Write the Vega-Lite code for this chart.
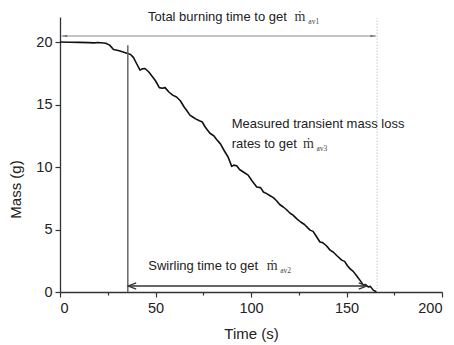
{
  "$schema": "https://vega.github.io/schema/vega-lite/v6.json",
  "width": 382,
  "height": 275,
  "autosize": {"type": "none"},
  "padding": {"left": 60, "top": 17, "right": 12, "bottom": 53},
  "background": "white",
  "config": {
    "view": {"stroke": null},
    "font": "Liberation Sans",
    "axis": {"grid": false, "domainColor": "#333", "domainWidth": 1.3, "tickColor": "#333", "tickWidth": 1.2, "labelFont": "Liberation Sans", "labelFontSize": 14.5, "labelColor": "#222", "titleFont": "Liberation Sans", "titleFontSize": 15, "titleFontWeight": "normal", "titleColor": "#222"}
  },
  "datasets": {
    "curve": [
      {"t": 0, "m": 20.0}, {"t": 5, "m": 19.98}, {"t": 10, "m": 19.97}, {"t": 15, "m": 19.95}, {"t": 18, "m": 19.93},
      {"t": 20, "m": 19.96}, {"t": 24, "m": 19.9}, {"t": 26, "m": 19.75}, {"t": 28, "m": 19.4}, {"t": 31, "m": 19.3},
      {"t": 35, "m": 19.1}, {"t": 37, "m": 19.0}, {"t": 38.5, "m": 18.75}, {"t": 40, "m": 18.3}, {"t": 41.9, "m": 17.75},
      {"t": 43, "m": 17.85}, {"t": 44.5, "m": 17.88}, {"t": 46.5, "m": 17.6}, {"t": 48, "m": 17.3}, {"t": 50, "m": 16.9},
      {"t": 52, "m": 16.35}, {"t": 53.5, "m": 16.3}, {"t": 55, "m": 16.35}, {"t": 57, "m": 16.0}, {"t": 59, "m": 15.75},
      {"t": 61, "m": 15.6}, {"t": 63, "m": 15.3}, {"t": 65, "m": 14.8}, {"t": 66, "m": 14.6}, {"t": 68, "m": 14.15},
      {"t": 69.5, "m": 14.0}, {"t": 71, "m": 13.85}, {"t": 73, "m": 13.7}, {"t": 74.5, "m": 13.6}, {"t": 76, "m": 13.2},
      {"t": 78.5, "m": 12.7}, {"t": 80.5, "m": 12.5}, {"t": 82, "m": 12.2}, {"t": 84, "m": 11.85}, {"t": 86, "m": 11.3},
      {"t": 88, "m": 10.8}, {"t": 89.9, "m": 10.05}, {"t": 91, "m": 10.15}, {"t": 92.5, "m": 10.1}, {"t": 94, "m": 9.8},
      {"t": 96, "m": 9.6}, {"t": 98.5, "m": 9.35}, {"t": 100.5, "m": 8.9}, {"t": 103, "m": 8.4}, {"t": 105, "m": 8.35},
      {"t": 106.5, "m": 8.0}, {"t": 108.2, "m": 7.87}, {"t": 110, "m": 7.7}, {"t": 111.7, "m": 7.55}, {"t": 113.4, "m": 7.3},
      {"t": 115, "m": 7.0}, {"t": 116.9, "m": 6.8}, {"t": 118.5, "m": 6.6}, {"t": 120.5, "m": 6.3}, {"t": 122, "m": 6.15},
      {"t": 124, "m": 5.85}, {"t": 126, "m": 5.6}, {"t": 128, "m": 5.4}, {"t": 130.9, "m": 4.95}, {"t": 132.5, "m": 4.85},
      {"t": 134, "m": 4.5}, {"t": 136.1, "m": 4.0}, {"t": 137.5, "m": 3.95}, {"t": 139.5, "m": 3.7}, {"t": 141.4, "m": 3.35},
      {"t": 143, "m": 3.2}, {"t": 145, "m": 2.9}, {"t": 147.5, "m": 2.55}, {"t": 149, "m": 2.45}, {"t": 150.5, "m": 2.1},
      {"t": 151.8, "m": 1.87}, {"t": 153.5, "m": 1.65}, {"t": 155.3, "m": 1.3}, {"t": 157, "m": 0.95}, {"t": 158.8, "m": 0.55},
      {"t": 160, "m": 0.6}, {"t": 161.4, "m": 0.4}, {"t": 162.5, "m": 0.45}, {"t": 164, "m": 0.15}, {"t": 165.8, "m": 0.0}
    ],
    "topArrow": [{"t": 0.8, "t2": 165.5, "m": 20.48}],
    "swirlStart": [{"t": 35.5, "m": 0, "m2": 19.74}],
    "endLine": [{"t": 166, "m": 0, "m2": 21.9}],
    "bottomArrow": [{"t": 35.7, "t2": 160.6, "m": 0.48}],
    "topHeadsL": [{"t": 0.8, "m": 20.48}],
    "topHeadsR": [{"t": 165.5, "m": 20.48}],
    "botHeadsL": [{"t": 35.7, "m": 0.48}],
    "botHeadsR": [{"t": 160.6, "m": 0.48}],
    "mainText": [
      {"t": 46.1, "m": 21.68, "label": "Total burning time to get"},
      {"t": 89.9, "m": 13.15, "label": "Measured transient mass loss"},
      {"t": 89.9, "m": 11.55, "label": "rates to get"},
      {"t": 46.2, "m": 1.74, "label": "Swirling time to get"}
    ],
    "mdot": [
      {"t": 122.8, "m": 21.68, "label": "ṁ"},
      {"t": 127.2, "m": 11.55, "label": "ṁ"},
      {"t": 108.2, "m": 1.74, "label": "ṁ"}
    ],
    "subs": [
      {"t": 130.0, "m": 21.45, "label": "av1"},
      {"t": 134.3, "m": 11.32, "label": "av3"},
      {"t": 115.3, "m": 1.51, "label": "av2"}
    ]
  },
  "layer": [
    {
      "data": {"name": "curve"},
      "mark": {"type": "line", "color": "#111", "strokeWidth": 1.6, "strokeJoin": "round"},
      "encoding": {
        "x": {"field": "t", "type": "quantitative", "scale": {"domain": [0, 200], "nice": false},
          "axis": {"values": [0, 25, 50, 75, 100, 125, 150, 175, 200], "labelExpr": "datum.value % 50 === 0 ? datum.label : ''",
            "tickSize": {"condition": {"test": "datum.value % 50 === 0", "value": 5}, "value": 3},
            "labelPadding": 4, "title": "Time (s)", "titleY": 34, "titleBaseline": "top"}},
        "y": {"field": "m", "type": "quantitative", "scale": {"domain": [0, 22], "nice": false},
          "axis": {"values": [0, 2.5, 5, 7.5, 10, 12.5, 15, 17.5, 20], "labelExpr": "datum.value % 5 === 0 ? datum.label : ''",
            "tickSize": {"condition": {"test": "datum.value % 5 === 0", "value": 5}, "value": 3},
            "labelPadding": 3, "title": "Mass (g)", "titleX": -37, "titleY": 172}}
      }
    },
    {
      "data": {"name": "topArrow"},
      "mark": {"type": "rule", "color": "#8a8a8a", "strokeWidth": 1.1},
      "encoding": {"x": {"field": "t", "type": "quantitative"}, "x2": {"field": "t2"}, "y": {"field": "m", "type": "quantitative"}}
    },
    {
      "data": {"name": "swirlStart"},
      "mark": {"type": "rule", "color": "#666", "strokeWidth": 1.5},
      "encoding": {"x": {"field": "t", "type": "quantitative"}, "y": {"field": "m", "type": "quantitative"}, "y2": {"field": "m2"}}
    },
    {
      "data": {"name": "endLine"},
      "mark": {"type": "rule", "color": "#c8c8c8", "strokeWidth": 1, "strokeDash": [1.5, 1.5]},
      "encoding": {"x": {"field": "t", "type": "quantitative"}, "y": {"field": "m", "type": "quantitative"}, "y2": {"field": "m2"}}
    },
    {
      "data": {"name": "bottomArrow"},
      "mark": {"type": "rule", "color": "#333", "strokeWidth": 1.3},
      "encoding": {"x": {"field": "t", "type": "quantitative"}, "x2": {"field": "t2"}, "y": {"field": "m", "type": "quantitative"}}
    },
    {
      "data": {"name": "topHeadsL"},
      "mark": {"type": "point", "shape": "M-1,0L1,-0.45L1,0.45Z", "filled": true, "color": "#777", "size": 30, "opacity": 1},
      "encoding": {"x": {"field": "t", "type": "quantitative"}, "y": {"field": "m", "type": "quantitative"}, "xOffset": {"value": 3}}
    },
    {
      "data": {"name": "topHeadsR"},
      "mark": {"type": "point", "shape": "M1,0L-1,-0.45L-1,0.45Z", "filled": true, "color": "#777", "size": 30, "opacity": 1},
      "encoding": {"x": {"field": "t", "type": "quantitative"}, "y": {"field": "m", "type": "quantitative"}, "xOffset": {"value": -3}}
    },
    {
      "data": {"name": "botHeadsL"},
      "mark": {"type": "point", "shape": "M1,-0.8L-1,0L1,0.8", "filled": false, "color": "#333", "strokeWidth": 1.3, "size": 64, "opacity": 1},
      "encoding": {"x": {"field": "t", "type": "quantitative"}, "y": {"field": "m", "type": "quantitative"}, "xOffset": {"value": 4}}
    },
    {
      "data": {"name": "botHeadsR"},
      "mark": {"type": "point", "shape": "M-1,-0.8L1,0L-1,0.8", "filled": false, "color": "#333", "strokeWidth": 1.3, "size": 64, "opacity": 1},
      "encoding": {"x": {"field": "t", "type": "quantitative"}, "y": {"field": "m", "type": "quantitative"}, "xOffset": {"value": -4}}
    },
    {
      "data": {"name": "mainText"},
      "mark": {"type": "text", "align": "left", "baseline": "alphabetic", "font": "Liberation Sans", "fontSize": 13, "color": "#222"},
      "encoding": {"x": {"field": "t", "type": "quantitative"}, "y": {"field": "m", "type": "quantitative"}, "text": {"field": "label"}}
    },
    {
      "data": {"name": "mdot"},
      "mark": {"type": "text", "align": "left", "baseline": "alphabetic", "font": "Liberation Serif", "fontSize": 14, "color": "#333"},
      "encoding": {"x": {"field": "t", "type": "quantitative"}, "y": {"field": "m", "type": "quantitative"}, "text": {"field": "label"}}
    },
    {
      "data": {"name": "subs"},
      "mark": {"type": "text", "align": "left", "baseline": "alphabetic", "font": "Liberation Serif", "fontSize": 7.5, "color": "#444"},
      "encoding": {"x": {"field": "t", "type": "quantitative"}, "y": {"field": "m", "type": "quantitative"}, "text": {"field": "label"}}
    }
  ]
}
